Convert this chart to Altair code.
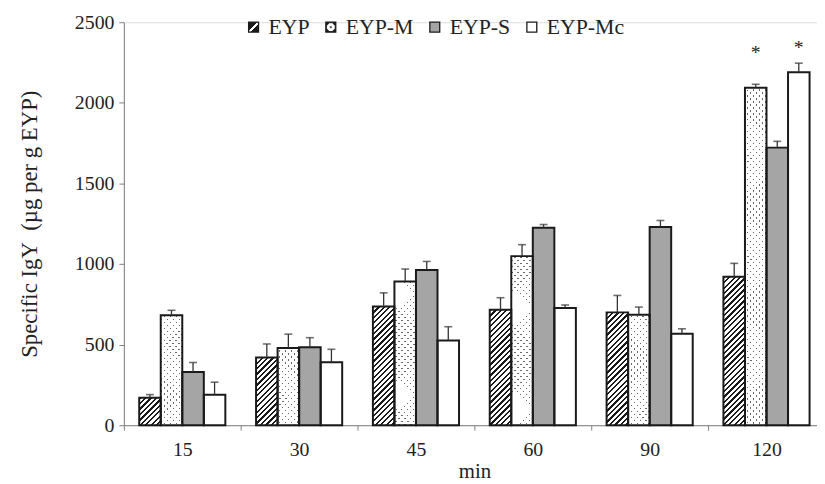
import altair as alt

# ---------------- data ----------------
times = ["15", "30", "45", "60", "90", "120"]
series = ["EYP", "EYP-M", "EYP-S", "EYP-Mc"]

eyp = [170, 420, 737, 717, 700, 921]
eyp_m = [682, 479, 891, 1049, 686, 2093]
eyp_s = [330, 483, 963, 1225, 1229, 1722]
eyp_mc = [189, 391, 526, 727, 568, 2189]

eyp_sd = [20, 84, 84, 74, 105, 83]
eyp_m_sd = [31, 86, 78, 71, 47, 22]
eyp_s_sd = [59, 60, 53, 20, 41, 39]
eyp_mc_sd = [78, 80, 85, 19, 30, 57]

star_time = ["120", "120"]
star_series = ["EYP-M", "EYP-Mc"]
star_level = [2310, 2338]

values = {"EYP": eyp, "EYP-M": eyp_m, "EYP-S": eyp_s, "EYP-Mc": eyp_mc}
sds = {"EYP": eyp_sd, "EYP-M": eyp_m_sd, "EYP-S": eyp_s_sd, "EYP-Mc": eyp_mc_sd}

# ---------------- style constants ----------------
FONT = "Liberation Serif"
TXT = "#222222"
AX = "#808080"
INK = "#1a1a1a"
GRAY = "#a5a5a5"
DOT = "#6a6a6a"
CLEAR = "rgba(255,255,255,0)"
W, H = 700, 407
X_RANGE = 708
Y_MAX = 2500
PAD_OUT = 0.713
bar_w = X_RANGE / len(times) / (len(series) + 2 * PAD_OUT)
px = H / Y_MAX


def stripe_stops(total, period, on, c_on, c_off):
    stops, pos = [], 0.0
    while pos < total:
        a = pos / total
        b = min(pos + on, total) / total
        c = min(pos + period, total) / total
        stops += [{"offset": a, "color": c_on}, {"offset": b, "color": c_on},
                  {"offset": b, "color": c_off}, {"offset": c, "color": c_off}]
        pos += period
    return stops


def diag(w, h, stops, anti=False):
    h = max(h, 1.0)
    k = (w + h) / (w * w + h * h)
    if anti:
        return {"gradient": "linear", "x1": 0, "y1": 1, "x2": w * k, "y2": 1 - h * k, "stops": stops}
    return {"gradient": "linear", "x1": 0, "y1": 0, "x2": w * k, "y2": h * k, "stops": stops}


rows, dots = [], []
for s in series:
    for t, v, sd in zip(times, values[s], sds[s]):
        h = v * px
        if s == "EYP":
            fill = diag(bar_w, h, stripe_stops(bar_w + h, 5.5, 2.3, INK, "#ffffff"))
        elif s == "EYP-M":
            fill = DOT
            dots.append({"time": t, "series": s, "val": v,
                         "g1": diag(bar_w, h, stripe_stops(bar_w + h, 6.0, 4.3, "#ffffff", CLEAR)),
                         "g2": diag(bar_w, h, stripe_stops(bar_w + h, 6.0, 4.3, "#ffffff", CLEAR), anti=True)})
        elif s == "EYP-S":
            fill = GRAY
        else:
            fill = "#ffffff"
        rows.append({"time": t, "series": s, "val": v, "top": v + sd, "fill": fill})

stars = [{"time": t, "series": s, "lvl": l} for t, s, l in zip(star_time, star_series, star_level)]
legend_rows = [{"time": times[0], "series": s, "zero": 0} for s in series]

leg_fill = [
    {"expr": "{gradient:'linear',x1:0,y1:0,x2:1,y2:1,stops:[{offset:0,color:'#1a1a1a'},{offset:0.42,color:'#1a1a1a'},{offset:0.42,color:'#ffffff'},{offset:0.6,color:'#ffffff'},{offset:0.6,color:'#1a1a1a'},{offset:1,color:'#1a1a1a'}]}"},
    {"expr": "{gradient:'radial',x1:0.5,y1:0.5,r1:0,x2:0.5,y2:0.5,r2:0.5,stops:[{offset:0,color:'#555555'},{offset:0.22,color:'#555555'},{offset:0.22,color:'#ffffff'},{offset:0.78,color:'#ffffff'},{offset:0.78,color:'#1a1a1a'},{offset:1,color:'#1a1a1a'}]}"},
    GRAY,
    "#ffffff",
]

x_enc = alt.X("time:N", sort=times,
              scale=alt.Scale(domain=times, range=[0, X_RANGE], paddingInner=0, paddingOuter=0),
              axis=alt.Axis(title="min", tickBand="extent", labelAngle=0, domainColor=AX, tickColor=AX,
                            tickSize=5, labelFont=FONT, labelFontSize=20, labelColor=TXT, labelPadding=10,
                            titleFont=FONT, titleFontSize=21, titleFontWeight="normal", titleColor=TXT,
                            titleBaseline="alphabetic", titleY=53, grid=False))
xo_enc = alt.XOffset("series:N", sort=series,
                     scale=alt.Scale(domain=series, paddingInner=0, paddingOuter=PAD_OUT))
y_enc = alt.Y("val:Q", stack=None,
              scale=alt.Scale(domain=[0, Y_MAX], nice=False, zero=True),
              axis=alt.Axis(title="Specific IgY\u00a0 (µg per g EYP)", values=[0, 500, 1000, 1500, 2000, 2500],
                            format="d", domainColor=AX, tickColor=AX, tickSize=5, labelFont=FONT,
                            labelFontSize=20, labelColor=TXT, labelPadding=5, titleFont=FONT,
                            titleFontSize=23, titleFontWeight="normal", titleColor=TXT, titleAngle=270,
                            titleX=-95, titleY=H / 2, titleAlign="center", titleBaseline="middle",
                            grid=False))

base = alt.Chart(alt.Data(values=rows)).mark_bar(strokeWidth=0).encode(
    x=x_enc, xOffset=xo_enc, y=y_enc, fill=alt.value({"expr": "datum.fill"}))

ov1 = alt.Chart(alt.Data(values=dots)).mark_bar(strokeWidth=0).encode(
    x="time:N", xOffset="series:N", y="val:Q", fill=alt.value({"expr": "datum.g1"}))
ov2 = alt.Chart(alt.Data(values=dots)).mark_bar(strokeWidth=0).encode(
    x="time:N", xOffset="series:N", y="val:Q", fill=alt.value({"expr": "datum.g2"}))

outline = alt.Chart(alt.Data(values=rows)).mark_bar(fill="transparent", stroke=INK, strokeWidth=2).encode(
    x="time:N", xOffset="series:N", y="val:Q")

leg = alt.Chart(alt.Data(values=legend_rows)).mark_bar(strokeWidth=0).encode(
    x="time:N", xOffset="series:N", y=alt.Y("zero:Q", stack=None),
    fill=alt.Fill("series:N", sort=series, scale=alt.Scale(domain=series, range=leg_fill),
                  legend=alt.Legend(title=None, orient="none", direction="horizontal", legendX=120,
                                    legendY=-6, labelFont=FONT, labelFontSize=22, labelColor=TXT,
                                    symbolType="square", symbolSize=100, symbolStrokeColor=INK,
                                    symbolStrokeWidth=1.3, columnPadding=10, labelOffset=4, padding=0,
                                    gridAlign="none")))

err = alt.Chart(alt.Data(values=rows)).mark_rule(color="#333333", strokeWidth=1.3).encode(
    x="time:N", xOffset="series:N", y="val:Q", y2="top:Q")
cap = alt.Chart(alt.Data(values=rows)).mark_tick(orient="horizontal", size=8, thickness=1.6,
                                                color="#333333").encode(
    x="time:N", xOffset="series:N", y="top:Q")
star = alt.Chart(alt.Data(values=stars)).mark_text(text="*", font=FONT, fontSize=20, color=TXT,
                                                  baseline="middle").encode(
    x="time:N", xOffset="series:N", y="lvl:Q")

chart = alt.layer(base, ov1, ov2, outline, leg, err, cap, star).properties(
    width=W, height=H,
    autosize=alt.AutoSizeParams(type="none"),
    padding={"left": 117, "top": 12, "right": 0, "bottom": 56},
).configure_view(stroke=None).configure(background="white")

chart.save("out.html", embed_options={"renderer": "svg", "actions": False})
